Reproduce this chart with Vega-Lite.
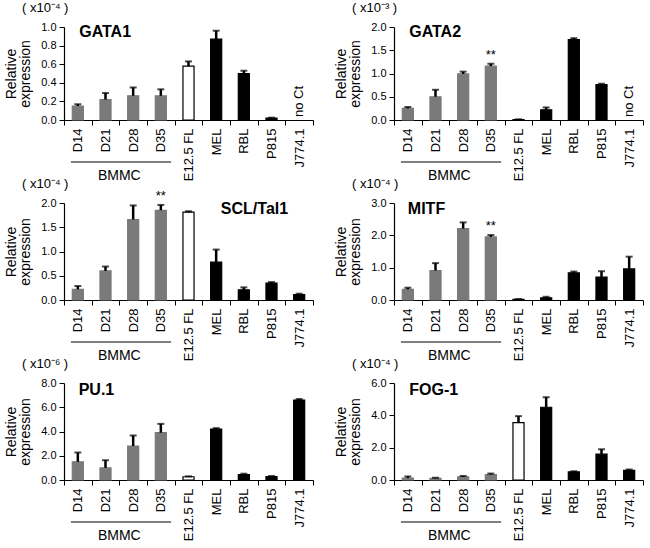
{
  "$schema": "https://vega.github.io/schema/vega-lite/v6.json",
  "padding": {"left": 4, "top": 2, "right": 4, "bottom": 2},
  "background": "white",
  "config": {
    "font": "Liberation Sans",
    "view": {"stroke": null},
    "axis": {"domainColor": "black", "tickColor": "black", "labelColor": "black", "titleColor": "black", "grid": false, "labelFont": "Liberation Sans", "titleFont": "Liberation Sans"},
    "axisX": {"labelAngle": -90, "labelFontSize": 13, "tickSize": 5, "labelPadding": 3, "tickBand": "extent", "title": null, "domainWidth": 1.2},
    "axisY": {"labelFontSize": 11, "tickSize": 5, "labelPadding": 3, "labelOverlap": false, "tickCount": 20, "titleFontSize": 14, "titleFontWeight": "normal", "titlePadding": 8, "titleLineHeight": 14, "domainWidth": 1.2}
  },
  "datasets": {
    "GATA1": [
      {"cell": "D14", "grp": "BMMC", "value": 0.15, "hi": 0.17},
      {"cell": "D21", "grp": "BMMC", "value": 0.22, "hi": 0.29},
      {"cell": "D28", "grp": "BMMC", "value": 0.26, "hi": 0.35},
      {"cell": "D35", "grp": "BMMC", "value": 0.26, "hi": 0.33},
      {"cell": "E12.5 FL", "grp": "FL", "value": 0.58, "hi": 0.63},
      {"cell": "MEL", "grp": "line", "value": 0.87, "hi": 0.96},
      {"cell": "RBL", "grp": "line", "value": 0.50, "hi": 0.53},
      {"cell": "P815", "grp": "line", "value": 0.02, "hi": 0.025},
      {"cell": "J774.1", "grp": "line", "value": null, "hi": null, "note": "no Ct"}
    ],
    "GATA2": [
      {"cell": "D14", "grp": "BMMC", "value": 0.25, "hi": 0.28},
      {"cell": "D21", "grp": "BMMC", "value": 0.50, "hi": 0.65},
      {"cell": "D28", "grp": "BMMC", "value": 0.99, "hi": 1.04},
      {"cell": "D35", "grp": "BMMC", "value": 1.16, "hi": 1.21, "sig": "**"},
      {"cell": "E12.5 FL", "grp": "FL", "value": 0.01, "hi": 0.015},
      {"cell": "MEL", "grp": "line", "value": 0.22, "hi": 0.27},
      {"cell": "RBL", "grp": "line", "value": 1.73, "hi": 1.76},
      {"cell": "P815", "grp": "line", "value": 0.76, "hi": 0.78},
      {"cell": "J774.1", "grp": "line", "value": null, "hi": null, "note": "no Ct"}
    ],
    "SCL": [
      {"cell": "D14", "grp": "BMMC", "value": 0.22, "hi": 0.29},
      {"cell": "D21", "grp": "BMMC", "value": 0.60, "hi": 0.69},
      {"cell": "D28", "grp": "BMMC", "value": 1.66, "hi": 1.95},
      {"cell": "D35", "grp": "BMMC", "value": 1.85, "hi": 1.96, "sig": "**"},
      {"cell": "E12.5 FL", "grp": "FL", "value": 1.81, "hi": 1.83},
      {"cell": "MEL", "grp": "line", "value": 0.78, "hi": 1.04},
      {"cell": "RBL", "grp": "line", "value": 0.21, "hi": 0.26},
      {"cell": "P815", "grp": "line", "value": 0.35, "hi": 0.37},
      {"cell": "J774.1", "grp": "line", "value": 0.11, "hi": 0.13}
    ],
    "MITF": [
      {"cell": "D14", "grp": "BMMC", "value": 0.33, "hi": 0.38},
      {"cell": "D21", "grp": "BMMC", "value": 0.91, "hi": 1.14},
      {"cell": "D28", "grp": "BMMC", "value": 2.21, "hi": 2.40},
      {"cell": "D35", "grp": "BMMC", "value": 1.95, "hi": 2.01, "sig": "**"},
      {"cell": "E12.5 FL", "grp": "FL", "value": 0.02, "hi": 0.03},
      {"cell": "MEL", "grp": "line", "value": 0.07, "hi": 0.10},
      {"cell": "RBL", "grp": "line", "value": 0.84, "hi": 0.88},
      {"cell": "P815", "grp": "line", "value": 0.71, "hi": 0.89},
      {"cell": "J774.1", "grp": "line", "value": 0.96, "hi": 1.34}
    ],
    "PU1": [
      {"cell": "D14", "grp": "BMMC", "value": 1.5, "hi": 2.27},
      {"cell": "D21", "grp": "BMMC", "value": 1.0, "hi": 1.63},
      {"cell": "D28", "grp": "BMMC", "value": 2.8, "hi": 3.67},
      {"cell": "D35", "grp": "BMMC", "value": 3.9, "hi": 4.63},
      {"cell": "E12.5 FL", "grp": "FL", "value": 0.27, "hi": 0.30},
      {"cell": "MEL", "grp": "line", "value": 4.2, "hi": 4.28},
      {"cell": "RBL", "grp": "line", "value": 0.45, "hi": 0.52},
      {"cell": "P815", "grp": "line", "value": 0.28, "hi": 0.33},
      {"cell": "J774.1", "grp": "line", "value": 6.6, "hi": 6.68}
    ],
    "FOG1": [
      {"cell": "D14", "grp": "BMMC", "value": 0.12, "hi": 0.22},
      {"cell": "D21", "grp": "BMMC", "value": 0.10, "hi": 0.14},
      {"cell": "D28", "grp": "BMMC", "value": 0.20, "hi": 0.25},
      {"cell": "D35", "grp": "BMMC", "value": 0.33, "hi": 0.40},
      {"cell": "E12.5 FL", "grp": "FL", "value": 3.55, "hi": 3.95},
      {"cell": "MEL", "grp": "line", "value": 4.5, "hi": 5.12},
      {"cell": "RBL", "grp": "line", "value": 0.50, "hi": 0.54},
      {"cell": "P815", "grp": "line", "value": 1.6, "hi": 1.9},
      {"cell": "J774.1", "grp": "line", "value": 0.60, "hi": 0.65}
    ]
  },
  "columns": 2,
  "spacing": {"row": 83, "column": 81},
  "bounds": "flush",
  "concat": [
        {
          "width": 249, "height": 93,
          "data": {"name": "GATA1"},
          "encoding": {"x": {"field": "cell", "type": "nominal", "sort": ["D14","D21","D28","D35","E12.5 FL","MEL","RBL","P815","J774.1"], "scale": {"domain": ["D14","D21","D28","D35","E12.5 FL","MEL","RBL","P815","J774.1"], "paddingInner": 0, "paddingOuter": 0}}},
          "layer": [
            {"mark": {"type": "bar", "width": {"band": 0.4}, "strokeWidth": 1.2}, "encoding": {"y": {"field": "value", "type": "quantitative", "scale": {"domain": [0, 1], "nice": false}, "axis": {"values": [0, 0.2, 0.4, 0.6, 0.8, 1.0], "tickCount": 20, "labelOverlap": false, "format": ".1f", "title": ["Relative", "expression"]}}, "color": {"field": "grp", "type": "nominal", "scale": {"domain": ["BMMC","FL","line"], "range": ["#7a7a7a","#ffffff","#000000"]}, "legend": null}, "stroke": {"field": "grp", "type": "nominal", "scale": {"domain": ["BMMC","FL","line"], "range": ["#7a7a7a","#000000","#000000"]}, "legend": null}}},
            {"mark": {"type": "rule", "strokeWidth": 2.5, "color": "black"}, "encoding": {"y": {"field": "value", "type": "quantitative"}, "y2": {"field": "hi"}}},
            {"mark": {"type": "tick", "thickness": 2, "size": 7, "color": "black"}, "encoding": {"y": {"field": "hi", "type": "quantitative"}}},
            {"transform": [{"filter": "datum.note"}], "mark": {"type": "text", "angle": 270, "align": "left", "baseline": "middle", "dx": 3, "fontSize": 13}, "encoding": {"y": {"datum": 0}, "text": {"field": "note"}}},
            {"data": {"values": [{}]}, "mark": {"type": "text", "text": "GATA1", "fontWeight": "bold", "fontSize": 16, "align": "left", "baseline": "middle", "dy": 5}, "encoding": {"x": {"datum": "D14", "bandPosition": 0.55}, "y": {"datum": 1.0}}},
            {"data": {"values": [{}]}, "mark": {"type": "text", "text": "( x10⁻⁴ )", "fontSize": 13, "align": "left", "baseline": "middle", "dx": -42, "dy": -19}, "encoding": {"x": {"datum": "D14", "bandPosition": 0}, "y": {"datum": 1.0}}},
            {"data": {"values": [{}]}, "mark": {"type": "rule", "yOffset": 42, "strokeWidth": 1, "color": "black"}, "encoding": {"x": {"datum": "D14", "bandPosition": 0.25}, "x2": {"datum": "D35", "bandPosition": 0.87}, "y": {"datum": 0}}},
            {"data": {"values": [{}]}, "mark": {"type": "text", "text": "BMMC", "fontSize": 14, "baseline": "middle", "dy": 56}, "encoding": {"x": {"datum": "D21", "bandPosition": 1}, "y": {"datum": 0}}}
          ]
        },
        {
          "width": 249, "height": 93,
          "data": {"name": "GATA2"},
          "encoding": {"x": {"field": "cell", "type": "nominal", "sort": ["D14","D21","D28","D35","E12.5 FL","MEL","RBL","P815","J774.1"], "scale": {"domain": ["D14","D21","D28","D35","E12.5 FL","MEL","RBL","P815","J774.1"], "paddingInner": 0, "paddingOuter": 0}}},
          "layer": [
            {"mark": {"type": "bar", "width": {"band": 0.4}, "strokeWidth": 1.2}, "encoding": {"y": {"field": "value", "type": "quantitative", "scale": {"domain": [0, 2], "nice": false}, "axis": {"values": [0, 0.5, 1.0, 1.5, 2.0], "tickCount": 20, "labelOverlap": false, "format": ".1f", "title": ["Relative", "expression"]}}, "color": {"field": "grp", "type": "nominal", "scale": {"domain": ["BMMC","FL","line"], "range": ["#7a7a7a","#ffffff","#000000"]}, "legend": null}, "stroke": {"field": "grp", "type": "nominal", "scale": {"domain": ["BMMC","FL","line"], "range": ["#7a7a7a","#000000","#000000"]}, "legend": null}}},
            {"mark": {"type": "rule", "strokeWidth": 2.5, "color": "black"}, "encoding": {"y": {"field": "value", "type": "quantitative"}, "y2": {"field": "hi"}}},
            {"mark": {"type": "tick", "thickness": 2, "size": 7, "color": "black"}, "encoding": {"y": {"field": "hi", "type": "quantitative"}}},
            {"transform": [{"filter": "datum.sig"}], "mark": {"type": "text", "dy": -9, "fontSize": 13, "baseline": "middle"}, "encoding": {"y": {"field": "hi", "type": "quantitative"}, "text": {"field": "sig"}}},
            {"transform": [{"filter": "datum.note"}], "mark": {"type": "text", "angle": 270, "align": "left", "baseline": "middle", "dx": 3, "fontSize": 13}, "encoding": {"y": {"datum": 0}, "text": {"field": "note"}}},
            {"data": {"values": [{}]}, "mark": {"type": "text", "text": "GATA2", "fontWeight": "bold", "fontSize": 16, "align": "left", "baseline": "middle", "dy": 5}, "encoding": {"x": {"datum": "D14", "bandPosition": 0.55}, "y": {"datum": 2.0}}},
            {"data": {"values": [{}]}, "mark": {"type": "text", "text": "( x10⁻³ )", "fontSize": 13, "align": "left", "baseline": "middle", "dx": -42, "dy": -19}, "encoding": {"x": {"datum": "D14", "bandPosition": 0}, "y": {"datum": 2.0}}},
            {"data": {"values": [{}]}, "mark": {"type": "rule", "yOffset": 42, "strokeWidth": 1, "color": "black"}, "encoding": {"x": {"datum": "D14", "bandPosition": 0.25}, "x2": {"datum": "D35", "bandPosition": 0.87}, "y": {"datum": 0}}},
            {"data": {"values": [{}]}, "mark": {"type": "text", "text": "BMMC", "fontSize": 14, "baseline": "middle", "dy": 56}, "encoding": {"x": {"datum": "D21", "bandPosition": 1}, "y": {"datum": 0}}}
          ]
        },
        {
          "width": 249, "height": 97,
          "data": {"name": "SCL"},
          "encoding": {"x": {"field": "cell", "type": "nominal", "sort": ["D14","D21","D28","D35","E12.5 FL","MEL","RBL","P815","J774.1"], "scale": {"domain": ["D14","D21","D28","D35","E12.5 FL","MEL","RBL","P815","J774.1"], "paddingInner": 0, "paddingOuter": 0}}},
          "layer": [
            {"mark": {"type": "bar", "width": {"band": 0.4}, "strokeWidth": 1.2}, "encoding": {"y": {"field": "value", "type": "quantitative", "scale": {"domain": [0, 2], "nice": false}, "axis": {"values": [0, 0.5, 1.0, 1.5, 2.0], "tickCount": 20, "labelOverlap": false, "format": ".1f", "title": ["Relative", "expression"]}}, "color": {"field": "grp", "type": "nominal", "scale": {"domain": ["BMMC","FL","line"], "range": ["#7a7a7a","#ffffff","#000000"]}, "legend": null}, "stroke": {"field": "grp", "type": "nominal", "scale": {"domain": ["BMMC","FL","line"], "range": ["#7a7a7a","#000000","#000000"]}, "legend": null}}},
            {"mark": {"type": "rule", "strokeWidth": 2.5, "color": "black"}, "encoding": {"y": {"field": "value", "type": "quantitative"}, "y2": {"field": "hi"}}},
            {"mark": {"type": "tick", "thickness": 2, "size": 7, "color": "black"}, "encoding": {"y": {"field": "hi", "type": "quantitative"}}},
            {"transform": [{"filter": "datum.sig"}], "mark": {"type": "text", "dy": -9, "fontSize": 13, "baseline": "middle"}, "encoding": {"y": {"field": "hi", "type": "quantitative"}, "text": {"field": "sig"}}},
            {"data": {"values": [{}]}, "mark": {"type": "text", "text": "SCL/Tal1", "fontWeight": "bold", "fontSize": 16, "align": "left", "baseline": "middle", "dy": 6}, "encoding": {"x": {"datum": "MEL", "bandPosition": 0.67}, "y": {"datum": 2.0}}},
            {"data": {"values": [{}]}, "mark": {"type": "text", "text": "( x10⁻⁴ )", "fontSize": 13, "align": "left", "baseline": "middle", "dx": -42, "dy": -19}, "encoding": {"x": {"datum": "D14", "bandPosition": 0}, "y": {"datum": 2.0}}},
            {"data": {"values": [{}]}, "mark": {"type": "rule", "yOffset": 42, "strokeWidth": 1, "color": "black"}, "encoding": {"x": {"datum": "D14", "bandPosition": 0.25}, "x2": {"datum": "D35", "bandPosition": 0.87}, "y": {"datum": 0}}},
            {"data": {"values": [{}]}, "mark": {"type": "text", "text": "BMMC", "fontSize": 14, "baseline": "middle", "dy": 56}, "encoding": {"x": {"datum": "D21", "bandPosition": 1}, "y": {"datum": 0}}}
          ]
        },
        {
          "width": 249, "height": 97,
          "data": {"name": "MITF"},
          "encoding": {"x": {"field": "cell", "type": "nominal", "sort": ["D14","D21","D28","D35","E12.5 FL","MEL","RBL","P815","J774.1"], "scale": {"domain": ["D14","D21","D28","D35","E12.5 FL","MEL","RBL","P815","J774.1"], "paddingInner": 0, "paddingOuter": 0}}},
          "layer": [
            {"mark": {"type": "bar", "width": {"band": 0.4}, "strokeWidth": 1.2}, "encoding": {"y": {"field": "value", "type": "quantitative", "scale": {"domain": [0, 3], "nice": false}, "axis": {"values": [0, 1, 2, 3], "tickCount": 20, "labelOverlap": false, "format": ".1f", "title": ["Relative", "expression"]}}, "color": {"field": "grp", "type": "nominal", "scale": {"domain": ["BMMC","FL","line"], "range": ["#7a7a7a","#ffffff","#000000"]}, "legend": null}, "stroke": {"field": "grp", "type": "nominal", "scale": {"domain": ["BMMC","FL","line"], "range": ["#7a7a7a","#000000","#000000"]}, "legend": null}}},
            {"mark": {"type": "rule", "strokeWidth": 2.5, "color": "black"}, "encoding": {"y": {"field": "value", "type": "quantitative"}, "y2": {"field": "hi"}}},
            {"mark": {"type": "tick", "thickness": 2, "size": 7, "color": "black"}, "encoding": {"y": {"field": "hi", "type": "quantitative"}}},
            {"transform": [{"filter": "datum.sig"}], "mark": {"type": "text", "dy": -9, "fontSize": 13, "baseline": "middle"}, "encoding": {"y": {"field": "hi", "type": "quantitative"}, "text": {"field": "sig"}}},
            {"data": {"values": [{}]}, "mark": {"type": "text", "text": "MITF", "fontWeight": "bold", "fontSize": 16, "align": "left", "baseline": "middle", "dy": 6}, "encoding": {"x": {"datum": "D14", "bandPosition": 0.5}, "y": {"datum": 3.0}}},
            {"data": {"values": [{}]}, "mark": {"type": "text", "text": "( x10⁻⁴ )", "fontSize": 13, "align": "left", "baseline": "middle", "dx": -42, "dy": -19}, "encoding": {"x": {"datum": "D14", "bandPosition": 0}, "y": {"datum": 3.0}}},
            {"data": {"values": [{}]}, "mark": {"type": "rule", "yOffset": 42, "strokeWidth": 1, "color": "black"}, "encoding": {"x": {"datum": "D14", "bandPosition": 0.25}, "x2": {"datum": "D35", "bandPosition": 0.87}, "y": {"datum": 0}}},
            {"data": {"values": [{}]}, "mark": {"type": "text", "text": "BMMC", "fontSize": 14, "baseline": "middle", "dy": 56}, "encoding": {"x": {"datum": "D21", "bandPosition": 1}, "y": {"datum": 0}}}
          ]
        },
        {
          "width": 249, "height": 97,
          "data": {"name": "PU1"},
          "encoding": {"x": {"field": "cell", "type": "nominal", "sort": ["D14","D21","D28","D35","E12.5 FL","MEL","RBL","P815","J774.1"], "scale": {"domain": ["D14","D21","D28","D35","E12.5 FL","MEL","RBL","P815","J774.1"], "paddingInner": 0, "paddingOuter": 0}}},
          "layer": [
            {"mark": {"type": "bar", "width": {"band": 0.4}, "strokeWidth": 1.2}, "encoding": {"y": {"field": "value", "type": "quantitative", "scale": {"domain": [0, 8], "nice": false}, "axis": {"values": [0, 2, 4, 6, 8], "tickCount": 20, "labelOverlap": false, "format": ".1f", "title": ["Relative", "expression"]}}, "color": {"field": "grp", "type": "nominal", "scale": {"domain": ["BMMC","FL","line"], "range": ["#7a7a7a","#ffffff","#000000"]}, "legend": null}, "stroke": {"field": "grp", "type": "nominal", "scale": {"domain": ["BMMC","FL","line"], "range": ["#7a7a7a","#000000","#000000"]}, "legend": null}}},
            {"mark": {"type": "rule", "strokeWidth": 2.5, "color": "black"}, "encoding": {"y": {"field": "value", "type": "quantitative"}, "y2": {"field": "hi"}}},
            {"mark": {"type": "tick", "thickness": 2, "size": 7, "color": "black"}, "encoding": {"y": {"field": "hi", "type": "quantitative"}}},
            {"data": {"values": [{}]}, "mark": {"type": "text", "text": "PU.1", "fontWeight": "bold", "fontSize": 16, "align": "left", "baseline": "middle", "dy": 7}, "encoding": {"x": {"datum": "D14", "bandPosition": 0.53}, "y": {"datum": 8.0}}},
            {"data": {"values": [{}]}, "mark": {"type": "text", "text": "( x10⁻⁶ )", "fontSize": 13, "align": "left", "baseline": "middle", "dx": -42, "dy": -19}, "encoding": {"x": {"datum": "D14", "bandPosition": 0}, "y": {"datum": 8.0}}},
            {"data": {"values": [{}]}, "mark": {"type": "rule", "yOffset": 42, "strokeWidth": 1, "color": "black"}, "encoding": {"x": {"datum": "D14", "bandPosition": 0.25}, "x2": {"datum": "D35", "bandPosition": 0.87}, "y": {"datum": 0}}},
            {"data": {"values": [{}]}, "mark": {"type": "text", "text": "BMMC", "fontSize": 14, "baseline": "middle", "dy": 56}, "encoding": {"x": {"datum": "D21", "bandPosition": 1}, "y": {"datum": 0}}}
          ]
        },
        {
          "width": 249, "height": 97,
          "data": {"name": "FOG1"},
          "encoding": {"x": {"field": "cell", "type": "nominal", "sort": ["D14","D21","D28","D35","E12.5 FL","MEL","RBL","P815","J774.1"], "scale": {"domain": ["D14","D21","D28","D35","E12.5 FL","MEL","RBL","P815","J774.1"], "paddingInner": 0, "paddingOuter": 0}}},
          "layer": [
            {"mark": {"type": "bar", "width": {"band": 0.4}, "strokeWidth": 1.2}, "encoding": {"y": {"field": "value", "type": "quantitative", "scale": {"domain": [0, 6], "nice": false}, "axis": {"values": [0, 2, 4, 6], "tickCount": 20, "labelOverlap": false, "format": ".1f", "title": ["Relative", "expression"]}}, "color": {"field": "grp", "type": "nominal", "scale": {"domain": ["BMMC","FL","line"], "range": ["#7a7a7a","#ffffff","#000000"]}, "legend": null}, "stroke": {"field": "grp", "type": "nominal", "scale": {"domain": ["BMMC","FL","line"], "range": ["#7a7a7a","#000000","#000000"]}, "legend": null}}},
            {"mark": {"type": "rule", "strokeWidth": 2.5, "color": "black"}, "encoding": {"y": {"field": "value", "type": "quantitative"}, "y2": {"field": "hi"}}},
            {"mark": {"type": "tick", "thickness": 2, "size": 7, "color": "black"}, "encoding": {"y": {"field": "hi", "type": "quantitative"}}},
            {"data": {"values": [{}]}, "mark": {"type": "text", "text": "FOG-1", "fontWeight": "bold", "fontSize": 16, "align": "left", "baseline": "middle", "dy": 7}, "encoding": {"x": {"datum": "D14", "bandPosition": 0.55}, "y": {"datum": 6.0}}},
            {"data": {"values": [{}]}, "mark": {"type": "text", "text": "( x10⁻⁴ )", "fontSize": 13, "align": "left", "baseline": "middle", "dx": -42, "dy": -19}, "encoding": {"x": {"datum": "D14", "bandPosition": 0}, "y": {"datum": 6.0}}},
            {"data": {"values": [{}]}, "mark": {"type": "rule", "yOffset": 42, "strokeWidth": 1, "color": "black"}, "encoding": {"x": {"datum": "D14", "bandPosition": 0.25}, "x2": {"datum": "D35", "bandPosition": 0.87}, "y": {"datum": 0}}},
            {"data": {"values": [{}]}, "mark": {"type": "text", "text": "BMMC", "fontSize": 14, "baseline": "middle", "dy": 56}, "encoding": {"x": {"datum": "D21", "bandPosition": 1}, "y": {"datum": 0}}}
          ]
        }
  ]
}
